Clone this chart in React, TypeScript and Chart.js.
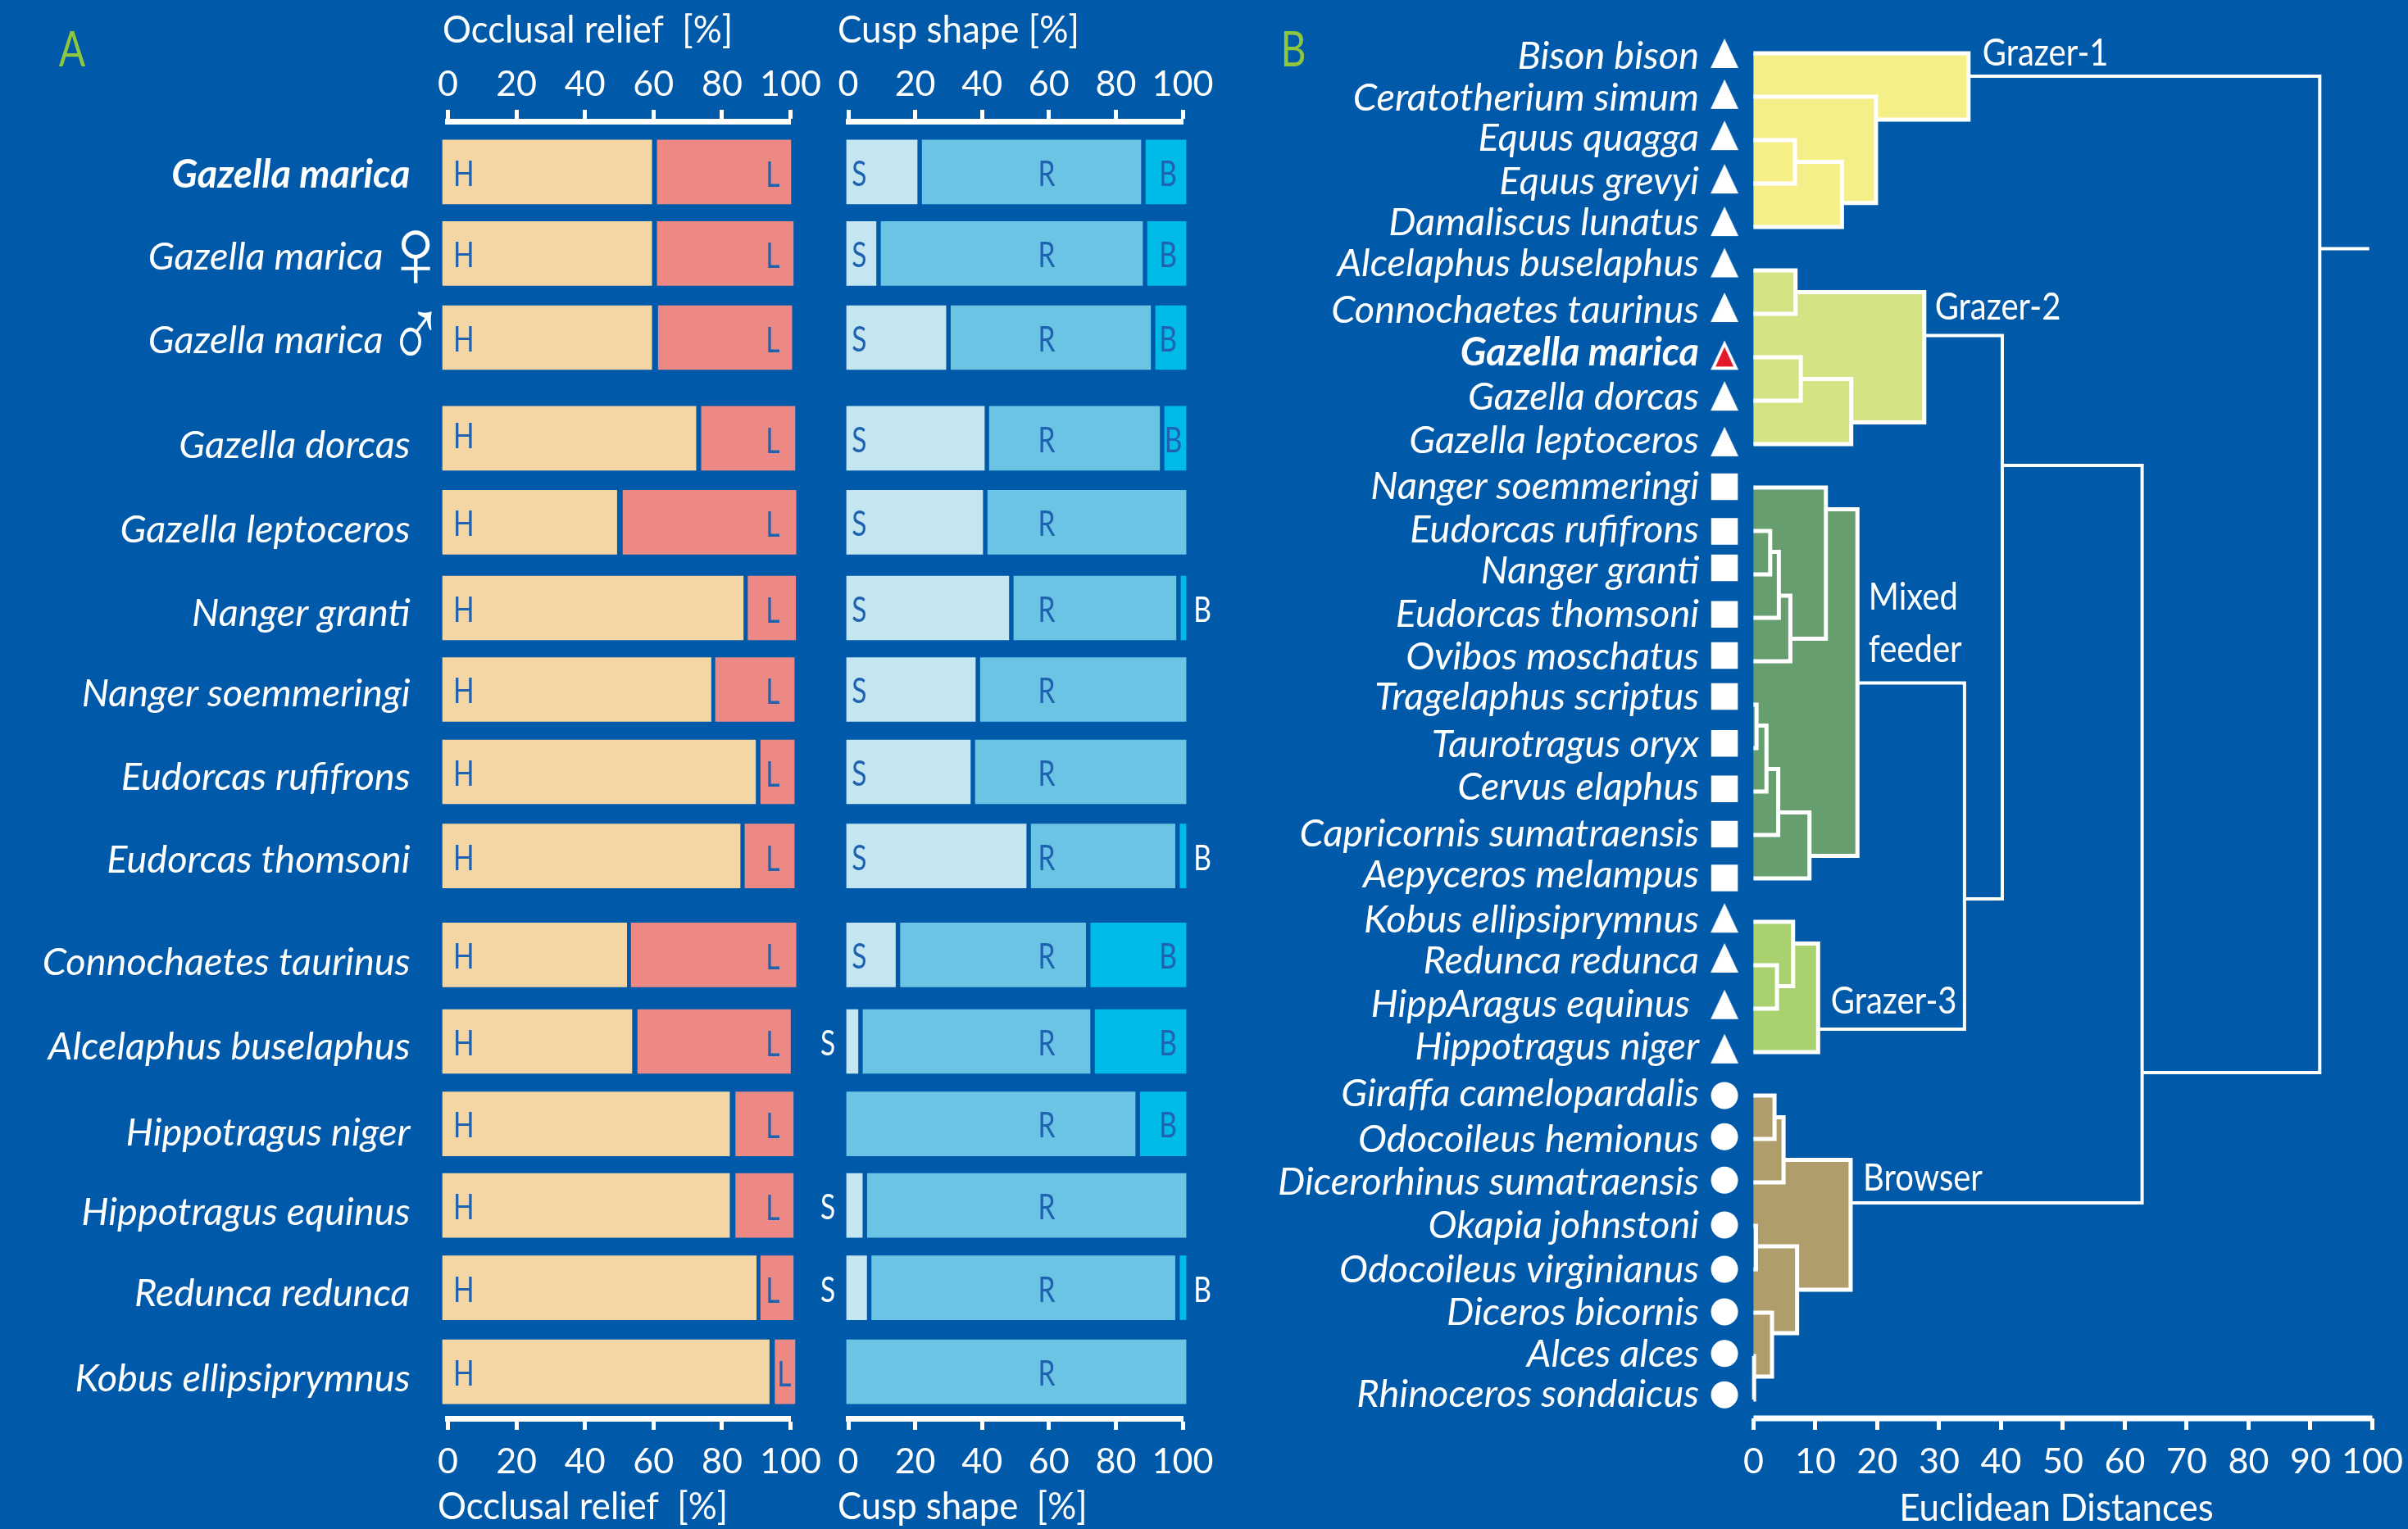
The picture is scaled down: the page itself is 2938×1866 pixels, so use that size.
import React, { useEffect, useRef } from "react";
import { Chart, registerables } from "chart.js";

Chart.register(...registerables);

const FONT = "Lato, sans-serif";
const BG = "#005AA9";
const WHITE = "#FFFFFF";
const INK = "#1E62B0";

// ---------- Panel A data ----------
const speciesA = [
  "Gazella marica", "Gazella marica   ", "Gazella marica   ", "Gazella dorcas", "Gazella leptoceros",
  "Nanger granti", "Nanger soemmeringi", "Eudorcas rufifrons", "Eudorcas thomsoni",
  "Connochaetes taurinus", "Alcelaphus buselaphus", "Hippotragus niger", "Hippotragus equinus",
  "Redunca redunca", "Kobus ellipsiprymnus",
];
const rowPos = [0, 0.98, 1.99, 3.2, 4.21, 5.24, 6.22, 7.21, 8.22, 9.41, 10.45, 11.44, 12.42, 13.41, 14.42];
const labelRowA = [0.04, 1.02, 2.03, 3.29, 4.3, 5.31, 6.27, 7.28, 8.27, 9.5, 10.52, 11.55, 12.51, 13.48, 14.51];
const reliefHighEnd = [59.5, 59.5, 59.5, 72.4, 49.3, 86.2, 76.8, 89.8, 85.3, 52.2, 53.7, 82.2, 82.2, 90, 93.8];
const reliefLowStart = [61.1, 61.1, 61.4, 74, 51.1, 87.6, 78.1, 91.3, 86.7, 53.5, 55.4, 84, 84, 91.3, 95.5];
const reliefLowEnd = [100.1, 100.8, 100.4, 101.3, 101.6, 101.5, 101.1, 101.1, 101.1, 101.6, 100, 100.8, 100.8, 100.8, 101.3];
const cuspSharpEnd = [20.6, 8.3, 29.2, 40.7, 40.2, 48, 38, 36.5, 53.2, 14.1, 2.9, null, 4.2, 5.5, null];
const cuspRoundEnd = [87.5, 88, 90.4, 93.1, 101, 98, 101, 101, 97.7, 71, 72.3, 85.8, 101, 97.7, 101];
const cuspBluntShown = [true, true, true, true, false, true, false, false, true, true, true, true, false, true, false];
const sharpOutside = [false, false, false, false, false, false, false, false, false, false, true, false, true, true, false];
const bluntOutside = [false, false, false, false, false, true, false, false, true, false, false, false, false, true, false];
const percentTicks = [0, 20, 40, 60, 80, 100];

// ---------- Panel B data ----------
const speciesB = [
  "Bison bison", "Ceratotherium simum", "Equus quagga", "Equus grevyi", "Damaliscus lunatus",
  "Alcelaphus buselaphus", "Connochaetes taurinus", "Gazella marica", "Gazella dorcas", "Gazella leptoceros",
  "Nanger soemmeringi", "Eudorcas rufifrons", "Nanger granti", "Eudorcas thomsoni", "Ovibos moschatus",
  "Tragelaphus scriptus", "Taurotragus oryx", "Cervus elaphus", "Capricornis sumatraensis", "Aepyceros melampus",
  "Kobus ellipsiprymnus", "Redunca redunca", "HippAragus equinus ", "Hippotragus niger",
  "Giraffa camelopardalis", "Odocoileus hemionus", "Dicerorhinus sumatraensis", "Okapia johnstoni",
  "Odocoileus virginianus", "Diceros bicornis", "Alces alces", "Rhinoceros sondaicus",
];
const markerRow = [
  0, 0.94, 1.89, 2.89, 3.87, 4.82, 5.85, 6.95, 7.89, 8.94,
  9.98, 11.01, 11.85, 12.92, 13.87, 14.81, 15.89, 16.94, 17.98, 18.99,
  19.91, 20.83, 21.9, 22.92, 24, 24.95, 25.95, 26.98, 28, 28.98, 29.94, 30.89,
];
const labelRowB = [
  0.08, 1.04, 1.96, 2.95, 3.9, 4.85, 5.92, 6.9, 7.93, 8.92,
  9.98, 10.97, 11.93, 12.92, 13.91, 14.83, 15.92, 16.91, 17.97, 18.93,
  19.95, 20.91, 21.9, 22.89, 23.95, 25.01, 26, 26.99, 28.01, 29, 29.95, 30.88,
];
const dietOfRow = [
  "triangle", "triangle", "triangle", "triangle", "triangle", "triangle", "triangle", "triangle", "triangle", "triangle",
  "rect", "rect", "rect", "rect", "rect", "rect", "rect", "rect", "rect", "rect",
  "triangle", "triangle", "triangle", "triangle",
  "circle", "circle", "circle", "circle", "circle", "circle", "circle", "circle",
];
// [distance, top row, bottom row, distance of top child, distance of bottom child]
const mergesGrazer1 = [[34.75, 0, 1.53, 0, 19.8], [19.8, 1, 3.45, 0, 14.3], [14.3, 2.5, 4, 6.7, 0], [6.7, 2, 3, 0, 0]];
const mergesGrazer2 = [[27.6, 5.5, 8.5, 6.8, 15.8], [6.8, 5, 6, 0, 0], [15.8, 7.5, 9, 7.65, 0], [7.65, 7, 8, 0, 0]];
const mergesMixed = [
  [16.8, 10.5, 18.48, 11.7, 9.05], [11.7, 10, 13.48, 0, 5.96], [5.96, 12.49, 14, 4.1, 0], [4.1, 11.48, 13, 2.7, 0],
  [2.7, 11, 12, 0, 0], [9.05, 17.48, 19, 4, 0], [4, 16.48, 18, 2.1, 0], [2.1, 15.48, 17, 0.5, 0], [0.5, 15, 16, 0, 0],
];
const mergesGrazer3 = [[10.45, 20.5, 23, 6.4, 0], [6.4, 20, 21.48, 0, 3.8], [3.8, 21, 22, 0, 0]];
const mergesBrowser = [
  [15.7, 25.48, 28.47, 4.86, 7.05], [4.86, 24.5, 26, 3.4, 0], [3.4, 24, 25, 0, 0], [7.05, 27.47, 29.47, 0.4, 3],
  [0.4, 27, 28, 0, 0], [3, 29, 30.47, 0, 0.1], [0.1, 30, 31, 0, 0],
];
const mergesUpper = [[91.5, 0.53, 23.47, 34.75, 62.8], [62.8, 9.49, 26.47, 40.2, 15.7], [40.2, 6.5, 19.47, 27.6, 34.1], [34.1, 14.5, 22.47, 16.8, 10.45]];
const rootStem = [[91.5, 4.5], [99.5, 4.5]];
const outlineGrazer1 = [[0, 0], [34.75, 0], [34.75, 1.53], [19.8, 1.53], [19.8, 3.45], [14.3, 3.45], [14.3, 4], [0, 4]];
const outlineGrazer2 = [[0, 5], [6.8, 5], [6.8, 5.5], [27.6, 5.5], [27.6, 8.5], [15.8, 8.5], [15.8, 9], [0, 9]];
const outlineMixed = [[0, 10], [11.7, 10], [11.7, 10.5], [16.8, 10.5], [16.8, 18.48], [9.05, 18.48], [9.05, 19], [0, 19]];
const outlineGrazer3 = [[0, 20], [6.4, 20], [6.4, 20.5], [10.45, 20.5], [10.45, 23], [0, 23]];
const outlineBrowser = [[0, 24], [3.4, 24], [3.4, 24.5], [4.86, 24.5], [4.86, 25.48], [15.7, 25.48], [15.7, 28.47], [7.05, 28.47], [7.05, 29.47], [3, 29.47], [3, 30.47], [0, 30.47]];
const distanceTicks = [0, 10, 20, 30, 40, 50, 60, 70, 80, 90, 100];
const clusterNotes = [
  { text: "Grazer-1", x: 37, y: 0 },
  { text: "Grazer-2", x: 29.3, y: 5.86 },
  { text: "Mixed", x: 18.6, y: 12.54 },
  { text: "feeder", x: 18.6, y: 13.74 },
  { text: "Grazer-3", x: 12.5, y: 21.83 },
  { text: "Browser", x: 17.7, y: 25.9 },
];

type Note = { text: string; x: number; y: number; px?: boolean; color?: string; font?: string; align?: CanvasTextAlign; sx?: number };

const notes = (items: Note[]) => ({
  id: "notes",
  afterDraw(chart: any) {
    const { ctx, scales } = chart;
    for (const n of items) {
      ctx.save();
      ctx.textBaseline = "middle";
      ctx.font = n.font || `46px ${FONT}`;
      ctx.fillStyle = n.color || WHITE;
      ctx.textAlign = n.align || "center";
      const x = n.px ? n.x : scales.x.getPixelForValue(n.x);
      const y = n.px ? n.y : scales.y.getPixelForValue(n.y);
      ctx.translate(x, y);
      ctx.scale(n.sx || 1, 1);
      ctx.fillText(n.text, 0, 0);
      ctx.restore();
    }
  },
});

const rowMin = -0.61;
const rowMax = 14.98;
const barThickness = 78;
const LETTER = `43px ${FONT}`;
const LETTER_SX = 0.78;
const LETTER_DROP = 0.03;

const axisCommon = (values: number[], position: string, height: number, extra: any = {}) => ({
  type: "linear",
  position,
  min: 0,
  max: 100,
  afterBuildTicks: (a: any) => { a.ticks = values.map((value) => ({ value })); },
  afterFit: (s: any) => { s.height = height; s.paddingLeft = 0; s.paddingRight = 0; },
  border: { display: true, color: WHITE, width: 7 },
  grid: { drawOnChartArea: false, drawTicks: true, tickLength: 14, tickWidth: 5, color: WHITE },
  ticks: { color: WHITE, font: { family: FONT, size: 43 }, padding: position === "top" ? 5 : 13, maxRotation: 0, autoSkip: false },
  ...extra,
});

function reliefConfig() {
  const start = -1.55;
  const highs = rowPos.map((y, i) => ({ x: [start, reliefHighEnd[i]], y }));
  const lows = rowPos.map((y, i) => ({ x: [reliefLowStart[i], reliefLowEnd[i]], y }));
  const text: Note[] = [
    { text: "A", x: 88, y: 62, px: true, color: "#8DC63F", font: `60px ${FONT}`, sx: 0.8 },
    { text: "Occlusal relief  [%]", x: 540, y: 37, px: true, align: "left", sx: 0.95 },
    { text: "Occlusal relief  [%]", x: 534, y: 1839, px: true, align: "left", sx: 0.95 },
    { text: "♀", x: -9.4, y: rowPos[1] + 0.09, font: "200 122px 'DejaVu Sans'" },
    { text: "♂", x: -9.4, y: rowPos[2] + 0.05, font: "200 122px 'DejaVu Sans'", sx: 0.75 },
  ];
  rowPos.forEach((y, i) => {
    text.push({ text: "H", x: 4.6, y: y + (i === 3 ? -0.02 : LETTER_DROP), color: INK, font: LETTER, sx: LETTER_SX });
    text.push({ text: "L", x: i === 14 ? 98.2 : 94.8, y: y + 0.04, color: INK, font: LETTER, sx: LETTER_SX });
  });
  return {
    type: "bar",
    data: {
      datasets: [
        { label: "High", data: highs, backgroundColor: "#F3D6A3", clip: false, barThickness, grouped: false },
        { label: "Low", data: lows, backgroundColor: "#EC8985", clip: false, barThickness, grouped: false },
      ],
    },
    options: {
      indexAxis: "y",
      animation: false,
      responsive: false,
      devicePixelRatio: 1,
      layout: { padding: { right: 55.5 } },
      plugins: { legend: { display: false }, tooltip: { enabled: false } },
      scales: {
        x: axisCommon(percentTicks, "bottom", 135),
        x2: axisCommon(percentTicks, "top", 148),
        y: {
          type: "linear",
          offset: false,
          reverse: true,
          min: rowMin,
          max: rowMax,
          afterBuildTicks: (a: any) => { a.ticks = labelRowA.map((value) => ({ value })); a.min = rowMin; a.max = rowMax; },
          afterFit: (s: any) => { s.width = 546.5; s.paddingTop = 0; s.paddingBottom = 0; },
          border: { display: false },
          grid: { display: false },
          ticks: {
            color: WHITE,
            padding: 38,
            autoSkip: false,
            callback: (_v: any, i: number) => speciesA[i],
            font: (c: any) => ({ family: FONT, size: 47, style: "italic", weight: c.index === 0 ? "bold" : "normal" }),
          },
        },
      },
    },
    plugins: [notes(text)],
  };
}

function cuspConfig() {
  const start = -0.5;
  const gap = 1.5;
  const sharp = rowPos.map((y, i) => ({ x: cuspSharpEnd[i] === null ? null : [start, cuspSharpEnd[i]], y }));
  const round = rowPos.map((y, i) => ({ x: [cuspSharpEnd[i] === null ? start : (cuspSharpEnd[i] as number) + gap, cuspRoundEnd[i]], y }));
  const blunt = rowPos.map((y, i) => ({ x: cuspBluntShown[i] ? [cuspRoundEnd[i] + gap, 101] : null, y }));
  const text: Note[] = [
    { text: "Cusp shape [%]", x: 62, y: 37, px: true, align: "left", sx: 0.955 },
    { text: "Cusp shape  [%]", x: 62, y: 1839, px: true, align: "left", sx: 0.95 },
  ];
  rowPos.forEach((y, i) => {
    const ty = y + LETTER_DROP;
    if (cuspSharpEnd[i] !== null) {
      const out = sharpOutside[i];
      text.push({ text: "S", x: out ? -6.1 : 3.3, y: ty, color: out ? WHITE : INK, font: LETTER, sx: LETTER_SX });
    }
    text.push({ text: "R", x: 59.3, y: ty, color: INK, font: LETTER, sx: LETTER_SX });
    if (cuspBluntShown[i]) {
      const out = bluntOutside[i];
      const bx = out ? 105.9 : i === 3 ? 97.2 : 95.6;
      text.push({ text: "B", x: bx, y: ty, color: out ? WHITE : INK, font: LETTER, sx: LETTER_SX });
    }
  });
  return {
    type: "bar",
    data: {
      datasets: [
        { label: "Sharp", data: sharp, backgroundColor: "#C3E6F1", clip: false, barThickness, grouped: false },
        { label: "Round", data: round, backgroundColor: "#6BC4E3", clip: false, barThickness, grouped: false },
        { label: "Blunt", data: blunt, backgroundColor: "#00BBEA", clip: false, barThickness, grouped: false },
      ],
    },
    options: {
      indexAxis: "y",
      animation: false,
      responsive: false,
      devicePixelRatio: 1,
      layout: { padding: { left: 75, right: 77 } },
      plugins: { legend: { display: false }, tooltip: { enabled: false } },
      scales: {
        x: axisCommon(percentTicks, "bottom", 135),
        x2: axisCommon(percentTicks, "top", 148),
        y: {
          type: "linear",
          offset: false,
          display: false,
          reverse: true,
          min: rowMin,
          max: rowMax,
          afterBuildTicks: (a: any) => { a.min = rowMin; a.max = rowMax; },
        },
      },
    },
    plugins: [notes(text)],
  };
}

const fillSet = (outline: number[][], color: string) => ({
  type: "scatter",
  order: 5,
  data: outline.map(([x, y]) => ({ x, y })),
  showLine: true,
  fill: "shape",
  backgroundColor: color,
  borderWidth: 0,
  borderColor: color,
  pointRadius: 0,
  clip: false,
});

const lineSet = (points: number[][], width: number) => ({
  type: "scatter",
  order: 1,
  data: points.map(([x, y]) => ({ x, y })),
  showLine: true,
  fill: false,
  borderColor: WHITE,
  borderWidth: width,
  borderJoinStyle: "miter",
  pointRadius: 0,
  clip: false,
});

const mergeSet = (m: number[], width: number) =>
  lineSet([[m[3], m[1]], [m[0], m[1]], [m[0], m[2]], [m[4], m[2]]], width);

const triangle = (fill: string, stroke: number) => {
  const c = document.createElement("canvas");
  c.width = 36;
  c.height = 38;
  const g = c.getContext("2d") as CanvasRenderingContext2D;
  g.beginPath();
  g.moveTo(18, 1);
  g.lineTo(35, 37);
  g.lineTo(1, 37);
  g.closePath();
  g.fillStyle = WHITE;
  g.fill();
  if (stroke > 0) {
    g.beginPath();
    g.moveTo(18, 9);
    g.lineTo(29, 33);
    g.lineTo(7, 33);
    g.closePath();
    g.fillStyle = fill;
    g.fill();
  }
  return c;
};

function dendroConfig() {
  const xMin = -6;
  const plotTop = 30;
  const yMin = (plotTop - 65) / 53;
  const yMax = 31.434;
  const markerX = -4.68;
  const boldRow = speciesB.indexOf("Gazella marica");
  const whiteTri = triangle(WHITE, 0);
  const redTri = triangle("#E2192B", 1);
  const radius = (c: any) => {
    const s = dietOfRow[c.dataIndex];
    if (s === "rect") return 23;
    if (s === "circle") return 16.5;
    return 18;
  };
  const text: Note[] = [
    { text: "B", x: 78, y: 62, px: true, color: "#8DC63F", font: `60px ${FONT}`, sx: 0.8 },
    { text: "Euclidean Distances", x: 1009, y: 1841, px: true, sx: 0.955 },
    ...clusterNotes.map((n) => ({ ...n, align: "left" as CanvasTextAlign, sx: 0.87 })),
  ];
  const inner = [...mergesGrazer1, ...mergesGrazer2, ...mergesMixed, ...mergesGrazer3, ...mergesBrowser];
  return {
    type: "scatter",
    data: {
      datasets: [
        fillSet(outlineGrazer1, "#F5EF88"),
        fillSet(outlineGrazer2, "#D6E385"),
        fillSet(outlineMixed, "#679E6F"),
        fillSet(outlineGrazer3, "#A9D26F"),
        fillSet(outlineBrowser, "#AF9E6B"),
        ...inner.map((m) => mergeSet(m, 5)),
        ...mergesUpper.map((m) => mergeSet(m, 4)),
        lineSet(rootStem, 4),
        lineSet([[0, yMax], [100, yMax]], 7),
        {
          type: "scatter",
          order: 0,
          data: speciesB.map((_, i) => ({ x: markerX, y: markerRow[i] })),
          pointStyle: (c: any) => {
            const s = dietOfRow[c.dataIndex];
            if (s !== "triangle") return s;
            return c.dataIndex === boldRow ? redTri : whiteTri;
          },
          pointRadius: radius,
          pointBackgroundColor: WHITE,
          pointBorderWidth: 0,
          clip: false,
        },
      ],
    },
    options: {
      animation: false,
      responsive: false,
      devicePixelRatio: 1,
      layout: { padding: { right: 43.5 } },
      plugins: { legend: { display: false }, tooltip: { enabled: false } },
      scales: {
        x: axisCommon(distanceTicks, "bottom", 135, { min: xMin, border: { display: false } }),
        x2: {
          type: "linear",
          position: "top",
          min: xMin,
          max: 100,
          afterFit: (s: any) => { s.height = plotTop; s.paddingLeft = 0; s.paddingRight = 0; },
          border: { display: false },
          grid: { display: false },
          ticks: { display: false },
        },
        y: {
          type: "linear",
          reverse: true,
          min: yMin,
          max: yMax,
          afterBuildTicks: (a: any) => {
            a.ticks = labelRowB.map((value) => ({ value }));
            a.min = yMin;
            a.max = yMax;
          },
          afterFit: (s: any) => { s.width = 594.1; s.paddingTop = 0; s.paddingBottom = 0; },
          border: { display: false },
          grid: { display: false },
          ticks: {
            color: WHITE,
            padding: 13,
            autoSkip: false,
            callback: (_v: any, i: number) => speciesB[i],
            font: (c: any) => ({ family: FONT, size: 47, style: "italic", weight: c.index === boldRow ? "bold" : "normal" }),
          },
        },
      },
    },
    plugins: [notes(text)],
  };
}

function Panel({ left, width, make }: { left: number; width: number; make: () => any }) {
  const ref = useRef<HTMLCanvasElement>(null);
  useEffect(() => {
    const chart = new Chart(ref.current as HTMLCanvasElement, make());
    return () => chart.destroy();
  }, []);
  return (
    <canvas
      ref={ref}
      width={width}
      height={1866}
      style={{ position: "absolute", left, top: 0, width, height: 1866 }}
    />
  );
}

export default function App() {
  useEffect(() => {
    document.body.style.margin = "0";
    document.body.style.background = BG;
  }, []);
  return (
    <div style={{ position: "fixed", left: 0, top: 0, width: 2938, height: 1866, background: BG, overflow: "hidden" }}>
      <Panel left={0} width={1020} make={reliefConfig} />
      <Panel left={960} width={560} make={cuspConfig} />
      <Panel left={1500} width={1438} make={dendroConfig} />
    </div>
  );
}
